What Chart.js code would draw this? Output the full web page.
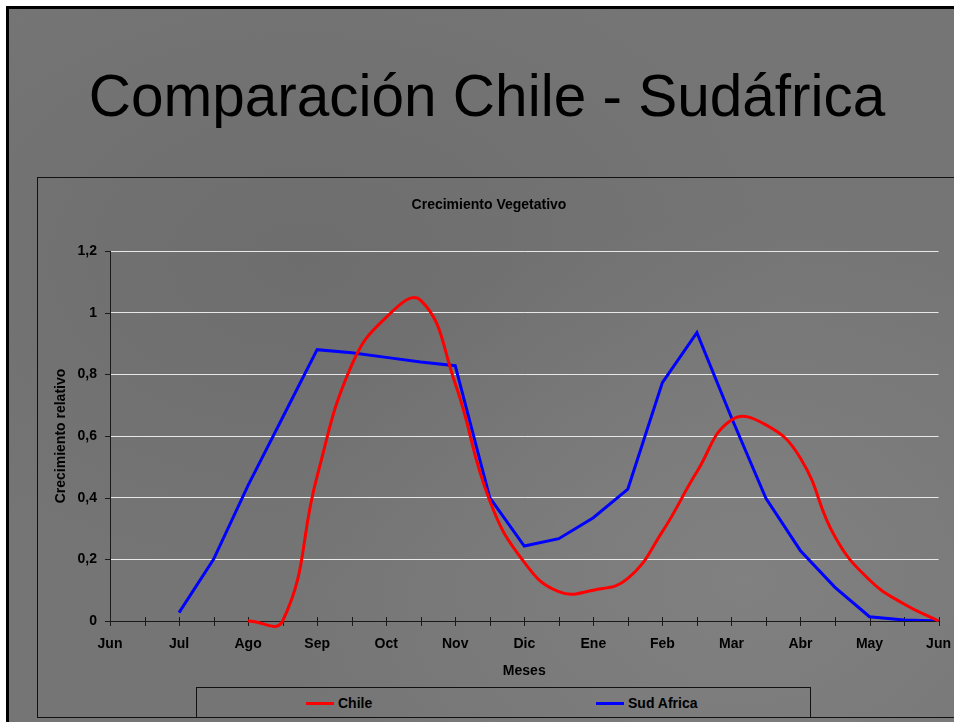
<!DOCTYPE html>
<html>
<head>
<meta charset="utf-8">
<script src="https://cdn.jsdelivr.net/npm/chart.js@4/dist/chart.umd.min.js"></script>
<style>
  html, body { margin: 0; padding: 0; background: #fff; overflow: hidden; }
  body { width: 954px; height: 722px; position: relative; font-family: "Liberation Sans", Arial, sans-serif; }
  .slide {
    position: absolute; left: 6px; top: 6px; width: 980px; height: 713px;
    border-left: 3px solid #000; border-top: 3px solid #000; border-bottom: 3px solid #000;
    background:
      radial-gradient(ellipse at 75% 80%, rgba(150,150,150,0.35), rgba(150,150,150,0) 45%),
      radial-gradient(ellipse at 30% 35%, rgba(95,95,95,0.35), rgba(95,95,95,0) 50%),
      #757575;
  }
  h1 {
    position: absolute; left: 0; top: 67px; width: 974px; margin: 0;
    text-align: center; font-weight: normal; font-size: 58.5px; line-height: 1; color: #000;
  }
  .box {
    position: absolute; left: 37px; top: 177px; width: 960px; height: 539px;
    border: 1px solid #111;
  }
  #wrap { position: absolute; left: 38px; top: 178px; }
  #legend {
    position: absolute; left: 196px; top: 687px; width: 613px; height: 29px;
    border: 1px solid #111; font-weight: bold; font-size: 14px;
  }
  #legend span.item { position: absolute; top: 7px; white-space: nowrap; }
  #legend i { display: inline-block; width: 28px; height: 3px; vertical-align: middle; margin-right: 4px; position: relative; top: -1px; }
</style>
</head>
<body>
<div class="slide"></div>
<h1>Comparación Chile - Sudáfrica</h1>
<div class="box"></div>
<div id="wrap"><canvas id="chart" width="920" height="509"></canvas></div>
<div id="legend"></div>
<script>
  // medio mes por punto, de Jun a Jun
  const months = ['Jun', '', 'Jul', '', 'Ago', '', 'Sep', '', 'Oct', '', 'Nov', '', 'Dic', '',
    'Ene', '', 'Feb', '', 'Mar', '', 'Abr', '', 'May', '', 'Jun']
  const chile = [null, null, null, null, 0, 0, 0.47, 0.83, 0.985, 1.04, 0.77, 0.39, 0.19, 0.095,
    0.10, 0.138, 0.29, 0.484, 0.652, 0.636, 0.528, 0.273, 0.133, 0.055, 0]
  const sudAfrica = [null, null, 0.027, 0.2, 0.44, 0.66, 0.88, 0.87, 0.855, 0.84, 0.828, 0.40, 0.243,
    0.267, 0.335, 0.428, 0.773, 0.935, 0.66, 0.398, 0.228, 0.109, 0.014, 0.003, 0]
  const yTicks = { 0: '0', 0.2: '0,2', 0.4: '0,4', 0.6: '0,6', 0.8: '0,8', 1: '1', 1.2: '1,2' }

  const font = { family: '"Liberation Sans", Arial, sans-serif', size: 14, weight: 'bold' }
  const axisColor = '#1a1a1a'

  // marcas de los ejes (las del eje x cruzan la línea)
  const tickMarks = {
    id: 'tickMarks',
    beforeDatasetsDraw(chart) {
      const { ctx, scales: { x, y }, chartArea } = chart
      ctx.save()
      ctx.strokeStyle = axisColor
      ctx.lineWidth = 1
      ctx.beginPath()
      x.ticks.forEach((t, i) => {
        const px = Math.round(x.getPixelForTick(i)) + 0.5
        ctx.moveTo(px, chartArea.bottom - 4)
        ctx.lineTo(px, chartArea.bottom + 5)
      })
      y.ticks.forEach((t, i) => {
        const py = Math.round(y.getPixelForTick(i)) + 0.5
        ctx.moveTo(chartArea.left - 5, py)
        ctx.lineTo(chartArea.left, py)
      })
      ctx.stroke()
      ctx.restore()
    }
  }

  const chart = new Chart(document.getElementById('chart'), {
    type: 'line',
    data: {
      labels: months,
      datasets: [
        { label: 'Chile', data: chile, borderColor: '#ff0000', borderWidth: 3, tension: 0.45, clip: 10 },
        { label: 'Sud Africa', data: sudAfrica, borderColor: '#0000ff', borderWidth: 3, tension: 0 }
      ]
    },
    options: {
      responsive: false,
      animation: false,
      layout: { padding: { right: 18 } },
      elements: { point: { radius: 0 }, line: { capBezierPoints: false, borderJoinStyle: 'miter' } },
      plugins: {
        legend: { display: false },
        tooltip: { enabled: false },
        title: {
          display: true, text: 'Crecimiento Vegetativo', color: '#000', font: font,
          padding: { top: 18.6, bottom: 37.6 }
        }
      },
      scales: {
        x: {
          offset: false,
          grid: { display: false },
          border: { display: true, color: axisColor, width: 1 },
          ticks: { color: '#000', font: font, autoSkip: false, maxRotation: 0, padding: 7 },
          title: { display: true, text: 'Meses', color: '#000', font: font, padding: { top: 0, bottom: 7 } },
          afterFit(s) { s.height = 66 }
        },
        y: {
          min: 0, max: 1.2,
          ticks: { stepSize: 0.2, color: '#000', font: font, padding: 13, callback: v => yTicks[Math.round(v * 10) / 10] },
          grid: { drawTicks: false, color: c => c.tick && c.tick.value === 0 ? 'rgba(0,0,0,0)' : '#e8e8e8' },
          border: { display: true, color: axisColor, width: 1 },
          title: { display: true, text: 'Crecimiento relativo', color: '#000', font: font, padding: { top: 14.6, bottom: 0 } },
          afterFit(s) { s.width = 72 }
        }
      }
    },
    plugins: [tickMarks]
  })

  // leyenda en recuadro propio, como en la diapositiva
  const legend = document.getElementById('legend')
  const legendX = [109, 399]
  chart.data.datasets.forEach((ds, k) => {
    const item = document.createElement('span')
    item.className = 'item'
    item.style.left = legendX[k] + 'px'
    item.innerHTML = `<i style="background:${ds.borderColor}"></i>${ds.label}`
    legend.appendChild(item)
  })
</script>
</body>
</html>
